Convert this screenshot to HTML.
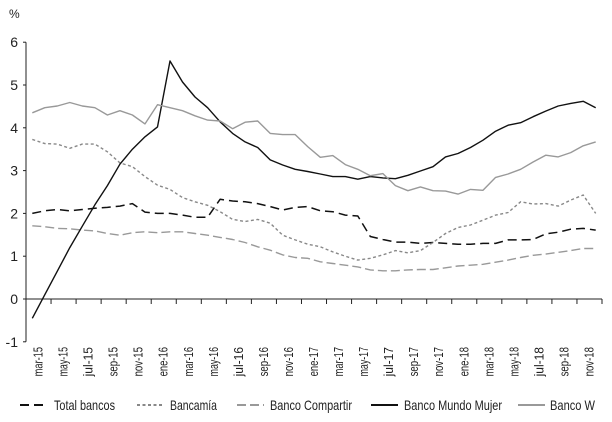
<!DOCTYPE html>
<html><head><meta charset="utf-8"><style>
html,body{margin:0;padding:0;background:#fff;}
svg{display:block;font-family:"Liberation Sans",sans-serif;}
</style></head><body>
<svg id="chart" width="612" height="422" viewBox="0 0 612 422" xmlns="http://www.w3.org/2000/svg">
<text x="9" y="18" font-size="12" fill="#222">%</text>
<g id="axes"></g><g id="series"></g><g id="legend"></g>
</svg>
<script>
const months = ["mar-15","abr-15","may-15","jun-15","jul-15","ago-15","sep-15","oct-15","nov-15","dic-15","ene-16","feb-16","mar-16","abr-16","may-16","jun-16","jul-16","ago-16","sep-16","oct-16","nov-16","dic-16","ene-17","feb-17","mar-17","abr-17","may-17","jun-17","jul-17","ago-17","sep-17","oct-17","nov-17","dic-17","ene-18","feb-18","mar-18","abr-18","may-18","jun-18","jul-18","ago-18","sep-18","oct-18","nov-18","dic-18"];
const yTicks = [-1,0,1,2,3,4,5,6];
const totalBancos = [2.0,2.06,2.09,2.06,2.09,2.12,2.14,2.17,2.23,2.03,2.0,2.0,1.96,1.91,1.91,2.33,2.29,2.27,2.23,2.16,2.08,2.14,2.16,2.06,2.04,1.96,1.94,1.46,1.39,1.33,1.33,1.30,1.32,1.30,1.28,1.28,1.30,1.30,1.38,1.38,1.39,1.52,1.56,1.63,1.65,1.61];
const bancamia = [3.73,3.63,3.62,3.52,3.62,3.62,3.44,3.18,3.09,2.86,2.66,2.56,2.37,2.27,2.19,2.04,1.86,1.81,1.86,1.77,1.49,1.38,1.28,1.22,1.10,1.0,0.91,0.95,1.03,1.13,1.08,1.13,1.32,1.53,1.67,1.73,1.84,1.96,2.02,2.27,2.22,2.23,2.17,2.31,2.43,2.0];
const compartir = [1.71,1.69,1.65,1.64,1.61,1.59,1.53,1.49,1.55,1.57,1.55,1.57,1.57,1.53,1.49,1.44,1.39,1.32,1.22,1.14,1.03,0.97,0.95,0.87,0.83,0.79,0.75,0.68,0.66,0.66,0.68,0.69,0.69,0.73,0.77,0.79,0.81,0.86,0.91,0.97,1.02,1.05,1.09,1.13,1.18,1.18];
const mundoMujer = [-0.45,0.1,0.65,1.2,1.7,2.2,2.65,3.15,3.5,3.79,4.02,5.56,5.07,4.72,4.47,4.14,3.87,3.67,3.54,3.25,3.13,3.03,2.98,2.92,2.86,2.86,2.80,2.86,2.83,2.81,2.89,2.99,3.09,3.32,3.40,3.54,3.71,3.92,4.06,4.12,4.26,4.39,4.51,4.57,4.62,4.47];
const bancoW = [4.35,4.47,4.51,4.59,4.51,4.47,4.30,4.40,4.30,4.09,4.54,4.47,4.40,4.28,4.18,4.16,3.98,4.13,4.16,3.87,3.84,3.84,3.56,3.31,3.35,3.14,3.03,2.88,2.93,2.65,2.53,2.62,2.53,2.52,2.45,2.56,2.54,2.84,2.92,3.03,3.20,3.36,3.32,3.42,3.58,3.67];

const NS="http://www.w3.org/2000/svg";
const X0=26, X1=602, Y0=299, PU=42.8;
const step=(X1-X0)/months.length;
const xs=i=>X0+step*(i+0.5);
const ys=v=>Y0-PU*v;
function mk(tag,attrs,parent){const e=document.createElementNS(NS,tag);for(const k in attrs)e.setAttribute(k,attrs[k]);parent.appendChild(e);return e;}
const axes=document.getElementById('axes');
let yl=mk('line',{x1:X0,x2:X0,y1:ys(6),y2:ys(-1),stroke:'#222','stroke-width':1},axes);


yTicks.forEach(t=>{
  const tk=mk('line',{x1:X0-3,x2:X0,y1:ys(t),y2:ys(t),stroke:'#222'},axes);
  
  
  const tx=mk('text',{x:X0-8,y:ys(t)+5,'font-size':14,'text-anchor':'end',fill:'#222'},axes);
  tx.textContent=String(t);
  
  
});
let xl=mk('line',{x1:X0,x2:X1,y1:Y0,y2:Y0,stroke:'#222','stroke-width':1},axes);


for(let i=0;i<=months.length;i+=2){
  const x=X0+step*i;
  const tk=mk('line',{x1:x,x2:x,y1:Y0,y2:Y0+5,stroke:'#222'},axes);
  
  
}
months.forEach((m,i)=>{
  if(i%2) return;
  const x=X0+step*(i+1)+4, y=347;
  const tx=mk('text',{x:x,y:y,'font-size':13,'text-anchor':'end',fill:'#222',transform:`rotate(-90 ${x} ${y})`,textLength:m.length*4.9,lengthAdjust:'spacingAndGlyphs'},axes);
  tx.textContent=m;
  
  
});
const seriesDefs=[
 {name:'Total bancos',data:totalBancos,color:'#111',dash:'9,5',w:1.5,key:'total-bancos',lx:20,tx:54,tl:61},
 {name:'Bancamía',data:bancamia,color:'#888',dash:'3,2.5',w:1.4,key:'bancamia',lx:137,tx:170,tl:47},
 {name:'Banco Compartir',data:compartir,color:'#999',dash:'9,4',w:1.4,key:'banco-compartir',lx:237,tx:270,tl:82},
 {name:'Banco Mundo Mujer',data:mundoMujer,color:'#111',dash:'',w:1.4,key:'banco-mundo-mujer',lx:371,tx:404,tl:98},
 {name:'Banco W',data:bancoW,color:'#999',dash:'',w:1.4,key:'banco-w',lx:518,tx:550,tl:45}
];
const sg=document.getElementById('series'), lg=document.getElementById('legend');
seriesDefs.forEach(s=>{
  const d=s.data.map((v,i)=>(i?'L':'M')+xs(i).toFixed(1)+','+ys(v).toFixed(1)).join(' ');
  const p=mk('path',{d:d,fill:'none',stroke:s.color,'stroke-width':s.w,'stroke-dasharray':s.dash,'stroke-linejoin':'round'},sg);
  
  
  const ln=mk('line',{x1:s.lx,x2:s.lx+27,y1:405,y2:405,stroke:s.color,'stroke-width':2,'stroke-dasharray':s.dash},lg);
  
  
  const t=mk('text',{x:s.tx,y:410,'font-size':14,fill:'#222',textLength:s.tl,lengthAdjust:'spacingAndGlyphs'},lg);
  t.textContent=s.name;
  
  
});
</script>
</body></html>
